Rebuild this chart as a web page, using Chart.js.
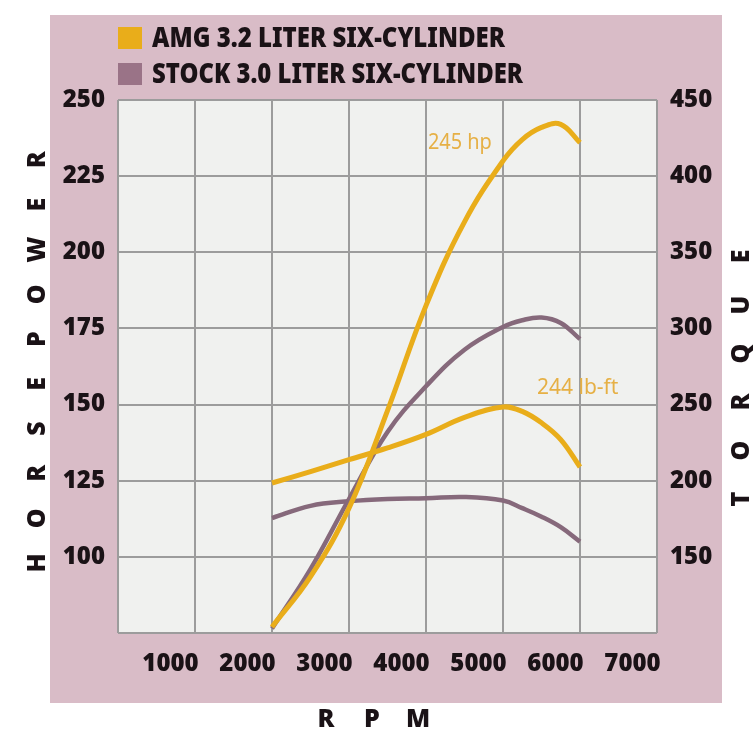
<!DOCTYPE html>
<html lang="en">
<head>
<meta charset="UTF-8">
<title>AMG 3.2 vs Stock 3.0 - Horsepower and Torque</title>
<script src="https://cdn.jsdelivr.net/npm/chart.js"></script>
<style>
  body { margin: 0; background: #fff; }
</style>
</head>
<body>
<canvas id="dynoChart" width="755" height="741"></canvas>
<script>
  // values
  const rpm = [2500, 3000, 3500, 4000, 4500, 5000, 5500, 5750, 6000, 6250, 6500];
  const amgHp = [77, 93.5, 116, 148, 182.5, 210, 230, 237, 241, 242, 236];
  const stockHp = [76.5, 96, 119, 141, 156, 168, 175.5, 177.7, 178.6, 176.8, 171.5];
  const amgTorque = [198.5, 206, 213.8, 221.5, 230.4, 241.6, 248.4, 245.5, 238, 227, 209];
  const stockTorque = [175.5, 183.5, 186.5, 188, 188.5, 189.3, 187, 182, 176.4, 169.5, 160];

  const rpmTicks = [1000, 2000, 3000, 4000, 5000, 6000, 7000];
  const rpmGrid = [500, 1500, 2500, 3500, 4500, 5500, 6500, 7500];
  const hpTicks = [75, 100, 125, 150, 175, 200, 225, 250];
  const torqueTicks = [100, 150, 200, 250, 300, 350, 400, 450];
  const legendNames = ['AMG 3.2 LITER SIX-CYLINDER', 'STOCK 3.0 LITER SIX-CYLINDER'];

  const YELLOW = '#e9ad1a';
  const PURPLE = '#86697b';
  const INK = '#1a1216';

  // pick the narrowest heavy face available, the print uses a condensed grotesk
  function pickFont() {
    const c = document.createElement('canvas').getContext('2d');
    const probe = '1000 2000 AMG LITER';
    const tries = [
      { family: "'Liberation Sans Narrow'", weight: '900' },
      { family: "'Noto Sans ExtraCondensed'", weight: '900' },
      { family: "'Noto Sans'", weight: '900 extra-condensed' },
      { family: "'Noto Sans Condensed'", weight: '900' },
      { family: "'Noto Sans'", weight: '900 condensed' },
      { family: "'DejaVu Sans Condensed'", weight: 'bold' }
    ];
    c.font = 'bold 40px monospace';
    const mono = c.measureText(probe).width;
    let best = null, bestW = Infinity;
    tries.forEach(t => {
      c.font = `${t.weight} 40px ${t.family}, monospace`;
      const w = c.measureText(probe).width;
      if (Math.abs(w - mono) > 0.5 && w < bestW) { best = t; bestW = w; }
    });
    return best || { family: 'sans-serif', weight: 'bold' };
  }
  const FACE = pickFont();
  const FAMILY = FACE.family + ', sans-serif';
  const tickFont = { family: FAMILY, size: 24, weight: FACE.weight };

  const pts = (vals) => rpm.map((r, i) => ({ x: r, y: vals[i] }));

  // text squeezed to the width it has on the print
  function fitText(ctx, text, x, y, width) {
    const w = ctx.measureText(text).width;
    ctx.save();
    ctx.translate(x, y);
    ctx.scale(Math.min(1, width / w), 1);
    ctx.fillText(text, 0, 0);
    ctx.restore();
  }

  const decor = {
    id: 'decor',
    beforeDraw(chart) {
      const { ctx, chartArea: a } = chart;
      ctx.save();
      ctx.fillStyle = '#d9bcc7';
      ctx.fillRect(50, 15, 672, 688);
      ctx.fillStyle = '#f0f1ef';
      ctx.fillRect(a.left, a.top, a.right - a.left, a.bottom - a.top);
      ctx.restore();
    },
    afterDraw(chart) {
      const { ctx, scales } = chart;
      ctx.save();
      ctx.textBaseline = 'middle';

      // legend
      const swatches = [YELLOW, '#9a7387'];
      const widths = [353, 371];
      ctx.font = `${FACE.weight} 28px ${FAMILY}`;
      ctx.textAlign = 'left';
      legendNames.forEach((name, i) => {
        const y = 38 + i * 36;
        ctx.fillStyle = swatches[i];
        ctx.fillRect(118, y - 11, 24, 22);
        ctx.fillStyle = INK;
        fitText(ctx, name, 152, y + 1, widths[i]);
      });

      // peak notes
      ctx.font = `21px ${FAMILY}`;
      ctx.fillStyle = '#e6b045';
      ctx.textAlign = 'center';
      fitText(ctx, '245 hp', scales.x.getPixelForValue(4940), scales.y.getPixelForValue(236), 64);
      fitText(ctx, '244 lb-ft', scales.x.getPixelForValue(6470), scales.y1.getPixelForValue(261), 83);

      // spaced axis titles
      ctx.font = `${FACE.weight} 25px ${FAMILY}`;
      ctx.fillStyle = INK;
      const vertical = (word, x, yBottom, step) => {
        [...word].forEach((ch, i) => {
          ctx.save();
          ctx.translate(x, yBottom - i * step);
          ctx.rotate(-Math.PI / 2);
          ctx.fillText(ch, 0, 0);
          ctx.restore();
        });
      };
      vertical('HORSEPOWER', 38, 563, 44.8);
      vertical('TORQUE', 742, 499, 48.5);
      [...'RPM'].forEach((ch, i) => ctx.fillText(ch, 326 + i * 46, 720));

      ctx.restore();
    }
  };

  const fixedTicks = (list) => (scale) => { scale.ticks = list.map(v => ({ value: v })); };

  new Chart(document.getElementById('dynoChart'), {
    type: 'line',
    data: {
      datasets: [
        { label: 'AMG hp', data: pts(amgHp), borderColor: YELLOW, borderWidth: 5, yAxisID: 'y' },
        { label: 'AMG torque', data: pts(amgTorque), borderColor: YELLOW, borderWidth: 5, yAxisID: 'y1' },
        { label: 'Stock hp', data: pts(stockHp), borderColor: PURPLE, borderWidth: 4.5, yAxisID: 'y' },
        { label: 'Stock torque', data: pts(stockTorque), borderColor: PURPLE, borderWidth: 4.5, yAxisID: 'y1' }
      ]
    },
    options: {
      responsive: false,
      animation: false,
      layout: { padding: { top: 100 } },
      elements: {
        point: { radius: 0 },
        line: { tension: 0.4, borderCapStyle: 'butt' }
      },
      plugins: { legend: { display: false }, tooltip: { enabled: false } },
      scales: {
        x: {
          type: 'linear', min: 500, max: 7500,
          afterBuildTicks: fixedTicks(rpmTicks),
          afterFit: (s) => { s.height = 108; },
          grid: { display: false },
          border: { display: false },
          ticks: {
            font: tickFont, color: INK, padding: 9, labelOffset: 14, maxRotation: 0,
            callback: (v) => String(v)
          }
        },
        xg: {
          type: 'linear', position: 'bottom', min: 500, max: 7500,
          afterBuildTicks: fixedTicks(rpmGrid),
          afterFit: (s) => { s.height = 0; },
          grid: { color: '#9c9c9c', lineWidth: 2, drawTicks: false },
          border: { display: false },
          ticks: { display: false }
        },
        y: {
          type: 'linear', position: 'left', min: 75, max: 250,
          afterBuildTicks: fixedTicks(hpTicks),
          afterFit: (s) => { s.width = 118; },
          grid: { color: '#9c9c9c', lineWidth: 2, drawTicks: false },
          border: { display: false },
          ticks: {
            font: tickFont, color: INK, padding: 13,
            callback: (v) => v === hpTicks[0] ? '' : String(v)
          }
        },
        y1: {
          type: 'linear', position: 'right', min: 100, max: 450,
          afterBuildTicks: fixedTicks(torqueTicks),
          afterFit: (s) => { s.width = 98; },
          grid: { display: false, drawTicks: false },
          border: { display: false },
          ticks: {
            font: tickFont, color: INK, padding: 13,
            callback: (v) => v === torqueTicks[0] ? '' : String(v)
          }
        }
      }
    },
    plugins: [decor]
  });
</script>
</body>
</html>
